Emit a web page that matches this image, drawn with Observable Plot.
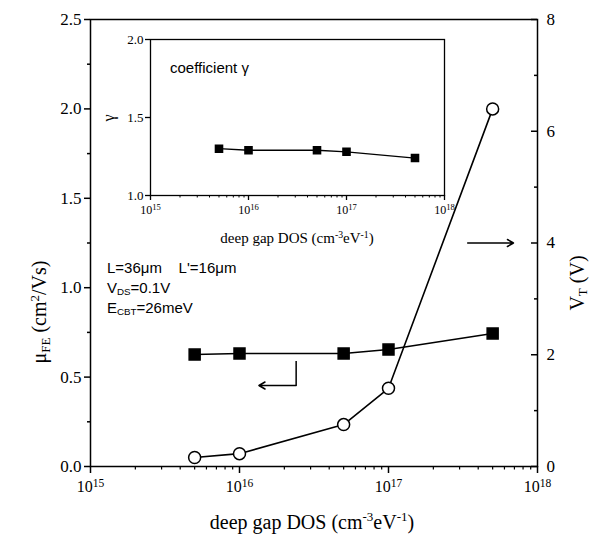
<!DOCTYPE html>
<html><head><meta charset="utf-8">
<script src="https://cdn.jsdelivr.net/npm/d3@7"></script>
<script src="https://cdn.jsdelivr.net/npm/@observablehq/plot@0.6"></script>
<style>
body{margin:0;background:#fff;}
#wrap{position:relative;width:599px;height:540px;overflow:hidden;background:#fff;}
#wrap svg{position:absolute;}
.lab{position:absolute;font-family:"Liberation Serif","Times New Roman",serif;color:#000;white-space:nowrap;line-height:1;transform:translate(-50%,-50%);}
.rot{transform:translate(-50%,-50%) rotate(-90deg);}
.ann{position:absolute;font-family:"Liberation Sans",Arial,sans-serif;font-size:15px;line-height:1;color:#000;white-space:nowrap;}
sub{font-size:65%;vertical-align:-0.25em;}
sup{font-size:65%;vertical-align:0.55em;}
</style></head><body><div id="wrap"></div>
<script>
// ---- data ----
const dos = [5e15, 1e16, 5e16, 1e17, 5e17];          // deep gap DOS (cm^-3 eV^-1)
const mobility = [0.626, 0.632, 0.632, 0.654, 0.744]; // μFE (cm²/Vs)
const vth = [0.16, 0.23, 0.75, 1.40, 6.40];           // VT (V)
const gamma = [1.30, 1.29, 1.29, 1.28, 1.24];         // coefficient γ
const xDecades = [1e15, 1e16, 1e17, 1e18];
const xDecadeExps = ["15", "16", "17", "18"];
const muTicks = [0, 0.5, 1, 1.5, 2, 2.5];
const muMinor = [0.25, 0.75, 1.25, 1.75, 2.25];
const vtTicks = [0, 2, 4, 6, 8];
const vtMinor = [1, 3, 5, 7];
const gammaTicks = [1, 1.5, 2];
// annotation arrows (data units)
const arrowRightX = [3.4e17, 6.9e17], arrowRightVT = 4;
const arrowLeftX = [2.4e16, 1.35e16], arrowLeftY = [0.59, 0.453];

const muMax = 2.5, vtMax = 8, k = muMax / vtMax;
const W = 599, H = 540, mL = 90, mR = 62, mT = 19, mB = 74;
const frameW = W - mL - mR;
const minorX = xDecades.slice(0, -1).flatMap(d => d3.range(2, 10).map(m => d * m));
const mainRows = dos.map((d, i) => ({dos: d, mu: mobility[i], vt: vth[i] * k}));
const insetRows = dos.map((d, i) => ({dos: d, g: gamma[i]}));
const decadeFmt = d => { const i = xDecades.indexOf(d); return i < 0 ? "" : "10^" + xDecadeExps[i]; };

const serif = "Liberation Serif";

const main = Plot.plot({
  width: W, height: H,
  marginLeft: mL, marginRight: mR, marginTop: mT, marginBottom: mB,
  x: {type: "log", domain: [1e15, 1e18]},
  y: {domain: [0, muMax]},
  style: {fontSize: "17px", color: "#000", background: "transparent"},
  marks: [
    Plot.frame({stroke: "#000", strokeWidth: 1.5}),
    Plot.axisY(muTicks, {anchor: "left", tickSize: 6, tickPadding: 3, strokeWidth: 1.5, tickFormat: d => d.toFixed(1), label: null, fontSize: 17}),
    Plot.axisY(muMinor, {anchor: "left", tickSize: 3, strokeWidth: 1.5, tickFormat: () => "", label: null}),
    Plot.axisY(vtTicks.map(v => v * k), {anchor: "right", tickSize: 0, tickPadding: 9, tickFormat: d => String(Math.round(d / k)), label: null, fontSize: 17}),
    Plot.tickY(vtTicks.map(v => v * k), {insetLeft: frameW - 6, stroke: "#000", strokeWidth: 1.5}),
    Plot.tickY(vtMinor.map(v => v * k), {insetLeft: frameW - 3, stroke: "#000", strokeWidth: 1.5}),
    Plot.axisX(xDecades, {anchor: "bottom", tickSize: 7, tickPadding: 7, strokeWidth: 1.5, tickFormat: decadeFmt, label: null, fontSize: 16}),
    Plot.axisX(minorX, {anchor: "bottom", tickSize: 3.5, strokeWidth: 1.2, tickFormat: () => "", label: null}),
    Plot.line(mainRows, {x: "dos", y: "mu", stroke: "#000", strokeWidth: 1.6}),
    Plot.line(mainRows, {x: "dos", y: "vt", stroke: "#000", strokeWidth: 1.6}),
    Plot.dot(mainRows, {x: "dos", y: "mu", symbol: "square", r: 6.2, fill: "#000", stroke: "#000"}),
    Plot.dot(mainRows, {x: "dos", y: "vt", r: 6, fill: "#fff", stroke: "#000", strokeWidth: 1.5}),
    Plot.arrow([{}], {x1: arrowRightX[0], x2: arrowRightX[1], y1: arrowRightVT * k, y2: arrowRightVT * k, stroke: "#000", strokeWidth: 1.5, headLength: 7}),
    Plot.link([{}], {x1: arrowLeftX[0], x2: arrowLeftX[0], y1: arrowLeftY[0], y2: arrowLeftY[1], stroke: "#000", strokeWidth: 1.5}),
    Plot.arrow([{}], {x1: arrowLeftX[0], x2: arrowLeftX[1], y1: arrowLeftY[1], y2: arrowLeftY[1], stroke: "#000", strokeWidth: 1.5, headLength: 7})
  ]
});
main.style.left = "0px"; main.style.top = "0px";

const inset = Plot.plot({
  width: 360, height: 232,
  marginLeft: 50, marginRight: 16, marginTop: 19, marginBottom: 57,
  x: {type: "log", domain: [1e15, 1e18]},
  y: {domain: [1, 2]},
  style: {fontSize: "13px", color: "#000", background: "transparent"},
  marks: [
    Plot.frame({stroke: "#000", strokeWidth: 1.3}),
    Plot.axisY(gammaTicks, {anchor: "left", tickSize: 5, tickPadding: 2, strokeWidth: 1.3, tickFormat: d => d.toFixed(1), label: null, fontSize: 13}),
    Plot.axisX(xDecades, {anchor: "bottom", tickSize: 5, tickPadding: 5, strokeWidth: 1.3, tickFormat: decadeFmt, label: null, fontSize: 12}),
    Plot.axisX(minorX, {anchor: "bottom", tickSize: 2.5, strokeWidth: 1, tickFormat: () => "", label: null}),
    Plot.line(insetRows, {x: "dos", y: "g", stroke: "#000", strokeWidth: 1.3}),
    Plot.dot(insetRows, {x: "dos", y: "g", symbol: "square", r: 4, fill: "#000", stroke: "#000"})
  ]
});
inset.style.left = "100px"; inset.style.top = "20px";

// serif tick labels, with true superscripts for the decade labels
for (const svg of [main, inset]) {
  svg.querySelectorAll("text").forEach(t => {
    t.style.fontFamily = '"Liberation Serif", "Times New Roman", serif';
    const m = /^10\^(\d+)$/.exec(t.textContent);
    if (m) {
      t.textContent = "10";
      const s = document.createElementNS("http://www.w3.org/2000/svg", "tspan");
      s.setAttribute("dy", "-0.45em");
      s.setAttribute("font-size", "72%");
      s.textContent = m[1];
      t.append(s);
    }
  });
}

const wrap = document.getElementById("wrap");
wrap.append(main, inset);

const html = [
  ['lab', 312, 521, 20, 'deep gap DOS (cm<sup>-3</sup>eV<sup>-1</sup>)'],
  ['lab rot', 40, 312, 20, 'μ<sub>FE</sub> (cm<sup>2</sup>/Vs)'],
  ['lab rot', 578, 283, 20, 'V<sub>T</sub> (V)'],
  ['lab', 297, 238, 15, 'deep gap DOS (cm<sup>-3</sup>eV<sup>-1</sup>)'],
  ['lab rot', 109, 118, 16, 'γ']
];
for (const [cls, x, y, fs, t] of html) {
  const d = document.createElement("div");
  d.className = cls; d.style.left = x + "px"; d.style.top = y + "px"; d.style.fontSize = fs + "px";
  d.innerHTML = t; wrap.append(d);
}
const notes = [
  [170, 60, 'coefficient γ'],
  [107, 260, 'L=36μm&nbsp;&nbsp;&nbsp;&nbsp;L\'=16μm'],
  [107, 280, 'V<sub>DS</sub>=0.1V'],
  [107, 300, 'E<sub>CBT</sub>=26meV']
];
for (const [x, y, t] of notes) {
  const d = document.createElement("div");
  d.className = "ann"; d.style.left = x + "px"; d.style.top = y + "px";
  d.innerHTML = t; wrap.append(d);
}
</script></body></html>
